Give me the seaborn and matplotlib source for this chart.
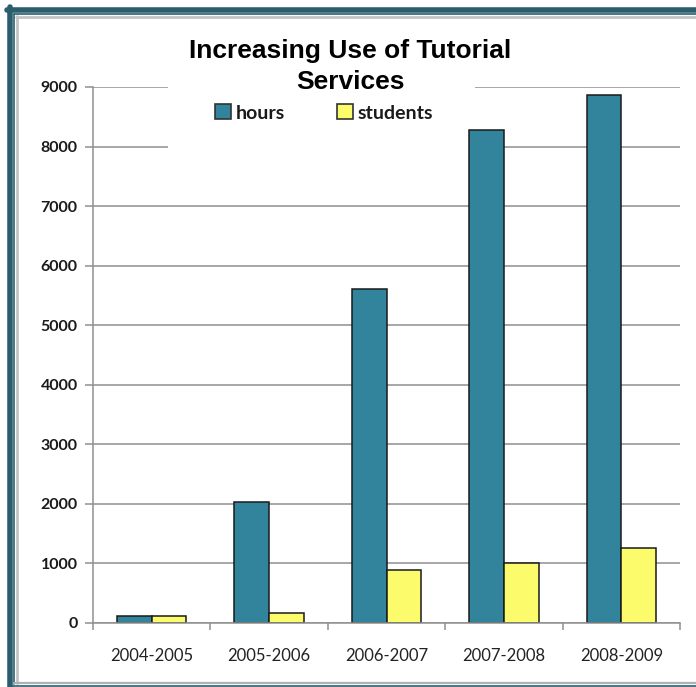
import numpy as np
import pandas as pd
import matplotlib
matplotlib.use("Agg")
import matplotlib.pyplot as plt
import seaborn as sns
from matplotlib.patches import Rectangle, Patch
from matplotlib.lines import Line2D

# data
years = ["2004-2005", "2005-2006", "2006-2007", "2007-2008", "2008-2009"]
hours = [120, 2030, 5600, 8270, 8860]
students = [120, 165, 890, 1010, 1265]
series_names = ["hours", "students"]
y_ticks = [0, 1000, 2000, 3000, 4000, 5000, 6000, 7000, 8000, 9000]

teal = "#31849b"
yellow = "#fbfb6c"
frame_teal = "#2b5e6d"
grid_gray = "#8f8f8f"

df = pd.DataFrame({
    "year": years * 2,
    "value": hours + students,
    "series": ["hours"] * len(years) + ["students"] * len(years),
})

sns.set_style("white")
W, H = 696, 687
fig = plt.figure(figsize=(W / 100, H / 100), dpi=100)


def fx(px):
    return px / W


def fy(py):
    return 1 - py / H


ax = fig.add_axes([fx(93), fy(623), fx(680) - fx(93), fy(87) - fy(623)])
sns.barplot(data=df, x="year", y="value", hue="series", order=years,
            hue_order=series_names, palette=[teal, yellow], width=0.59,
            gap=0, edgecolor="#1a1a1a", linewidth=1.1, saturation=1,
            legend=False, ax=ax, zorder=2)

ax.set_xlim(-0.5, 4.5)
ax.set_ylim(0, 9000)
ax.set_yticks(y_ticks)
ax.set_yticklabels([str(t) for t in y_ticks], fontfamily="Lato",
                   fontweight="bold", fontsize=11.5, color="#1a1a1a")
ax.set_xlabel("")
ax.set_ylabel("")
ax.set_axisbelow(True)
ax.yaxis.grid(True, color=grid_gray, linewidth=1.1, zorder=0)
for s in ["top", "right"]:
    ax.spines[s].set_visible(False)
for s in ["left", "bottom"]:
    ax.spines[s].set_color(grid_gray)
    ax.spines[s].set_linewidth(1.1)
ax.tick_params(axis="y", direction="out", length=6, color=grid_gray,
               width=1.1, pad=5, left=True)
ax.tick_params(axis="x", which="major", length=0, pad=18)
ax.set_xticks(np.arange(-0.5, 5, 1.0), minor=True)
ax.tick_params(axis="x", which="minor", direction="out", length=5,
               color=grid_gray, width=1.1, bottom=True)
for lab in ax.get_xticklabels():
    lab.set_fontfamily("Lato")
    lab.set_fontsize(12)
    lab.set_color("#222222")

# white area behind title and legend hides the gridlines (under the bars)
ax.add_patch(Rectangle((fx(168), fy(158)), fx(475) - fx(168),
                       fy(25) - fy(158), transform=fig.transFigure,
                       facecolor="white", edgecolor="none", zorder=1,
                       clip_on=False))

title_font = dict(ha="center", va="baseline", fontsize=19, fontweight="bold",
                  family="Liberation Sans", color="black", zorder=3)
fig.text(fx(350), fy(58), "Increasing Use of Tutorial", **title_font)
fig.text(fx(350), fy(89), "Services", **title_font)

handles = [Patch(facecolor=teal, edgecolor="#333333", linewidth=1.2),
           Patch(facecolor=yellow, edgecolor="#333333", linewidth=1.2)]
leg = fig.legend(handles, series_names, loc="center",
                 bbox_to_anchor=(fx(324), fy(113)), ncol=2, frameon=False,
                 handlelength=0.8, handleheight=0.8, handletextpad=0.25,
                 columnspacing=2.7, prop={"family": "Lato", "weight": "bold",
                                          "size": 14})
for t in leg.get_texts():
    t.set_color("#1a1a1a")
leg.set_zorder(3)

# page frame
fig.add_artist(Line2D([fx(9.5), fx(9.5)], [fy(7), 0], color=frame_teal,
                      linewidth=4, transform=fig.transFigure))
fig.add_artist(Line2D([fx(7), 1], [fy(9.5), fy(9.5)], color=frame_teal,
                      linewidth=4, transform=fig.transFigure))
fig.add_artist(Line2D([fx(13.8), fx(13.8)], [fy(13.8), fy(684)],
                      color=frame_teal, linewidth=1.2,
                      transform=fig.transFigure))
fig.add_artist(Line2D([fx(13.8), 1], [fy(13.8), fy(13.8)], color=frame_teal,
                      linewidth=1.2, transform=fig.transFigure))
fig.add_artist(Line2D([fx(16.5), fx(16.5)], [fy(16), fy(683)],
                      color="#c4c4c4", linewidth=2,
                      transform=fig.transFigure))
fig.add_artist(Line2D([fx(16), 1], [fy(16.5), fy(16.5)], color="#c4c4c4",
                      linewidth=2, transform=fig.transFigure))
fig.add_artist(Line2D([fx(14), 1], [fy(683), fy(683)], color="#b0b0b0",
                      linewidth=1.6, transform=fig.transFigure))
fig.add_artist(Line2D([fx(12), 1], [fy(686), fy(686)], color=frame_teal,
                      linewidth=1.2, transform=fig.transFigure))

fig.savefig("out.png", dpi=100)
